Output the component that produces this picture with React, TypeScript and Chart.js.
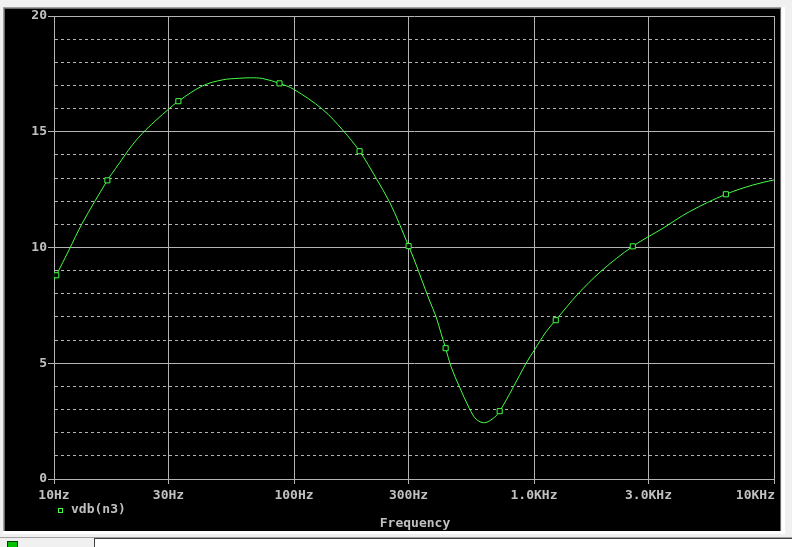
import React, { useEffect, useRef } from 'react';
import { Chart, registerables } from 'chart.js';

Chart.register(...registerables);

// ---- data ----
const freqHz = [
  10, 10.22, 11.55, 13.12, 16.69, 18.08, 21.21, 24.12, 29.97, 32.98, 41.54, 50.33, 59.09, 66, 74, 87.0, 99.9,
  131.5, 159.3, 187.6, 219.6, 249.5, 274.7, 300.3, 317.2, 366.3, 390.7, 410.0, 428.4, 451.2, 488.6, 537.8,
  573.5, 621.2, 683.8, 719.5, 815.1, 927.0, 1004, 1123, 1232, 1521, 1905, 2580, 3442, 4446, 6302, 8166, 10000,
];
const vdbN3 = [
  8.6, 8.8, 9.89, 11.05, 12.9, 13.42, 14.43, 15.08, 15.97, 16.32, 16.98, 17.24, 17.31, 17.33, 17.3, 17.09, 16.83,
  15.97, 15.08, 14.16, 13.0, 11.98, 11.03, 10.06, 9.46, 7.73, 7.01, 6.29, 5.65, 4.85, 3.99, 3.05,
  2.59, 2.43, 2.66, 2.93, 3.92, 5.0, 5.57, 6.36, 6.86, 7.98, 8.98, 10.05, 10.83, 11.55, 12.3, 12.7, 12.92,
];
const markerFreqHz = [10.22, 16.69, 32.98, 87.0, 187.6, 300.3, 428.4, 719.5, 1232, 2580, 6302];
const markerVdb = [8.8, 12.9, 16.32, 17.09, 14.16, 10.06, 5.65, 2.93, 6.86, 10.05, 12.3];

const xTickValues = [10, 30, 100, 300, 1000, 3000, 10000];
const xTickLabels = ['10Hz', '30Hz', '100Hz', '300Hz', '1.0KHz', '3.0KHz', '10KHz'];
const yMin = 0;
const yMax = 20;
const yMajorStep = 5;
const seriesName = 'vdb(n3)';
const xAxisTitle = 'Frequency';

// ---- style ----
const GREEN = '#44ff44';
const GRID = '#b4b4b4';
const TEXT = '#c0c0c0';
const FONT_FAMILY = '"DejaVu Sans Mono", "Liberation Mono", monospace';

const isMajor = (v: number) => Math.abs(v % yMajorStep) < 1e-9;

const overlayPlugin = {
  id: 'pspiceOverlay',
  afterDraw(chart: any) {
    const { ctx, chartArea, scales } = chart;
    const xs = scales.x;
    ctx.save();
    ctx.font = `bold 13px ${FONT_FAMILY}`;
    ctx.fillStyle = TEXT;
    ctx.textBaseline = 'alphabetic';
    ctx.textAlign = 'left';
    xTickValues.forEach((v, i) => {
      const label = xTickLabels[i];
      const w = ctx.measureText(label).width;
      let x = xs.getPixelForValue(v) - w / 2;
      x = Math.min(x, chartArea.right + 1 - w);
      ctx.fillText(label, x, chartArea.bottom + 20);
    });
    // legend
    ctx.strokeStyle = GREEN;
    ctx.lineWidth = 1;
    ctx.strokeRect(chartArea.left + 4.5, chartArea.bottom + 29.5, 4, 4);
    ctx.fillText(seriesName, chartArea.left + 17, chartArea.bottom + 34);
    // axis title
    const tw = ctx.measureText(xAxisTitle).width;
    ctx.fillText(xAxisTitle, (chartArea.left + chartArea.right) / 2 - tw / 2 + 1, chartArea.bottom + 48);
    ctx.restore();
  },
};

export default function App() {
  const canvasRef = useRef<HTMLCanvasElement | null>(null);

  useEffect(() => {
    const canvas = canvasRef.current;
    if (!canvas) return;
    const chart = new Chart(canvas, {
      type: 'line',
      data: {
        datasets: [
          {
            label: seriesName + ' markers',
            data: markerFreqHz.map((f, i) => ({ x: f, y: markerVdb[i] })),
            showLine: false,
            pointStyle: 'rect',
            pointRadius: 3.6,
            pointBorderWidth: 1,
            pointBorderColor: GREEN,
            pointBackgroundColor: '#000000',
            order: 0,
          },
          {
            label: seriesName,
            data: freqHz.map((f, i) => ({ x: f, y: vdbN3[i] })),
            borderColor: GREEN,
            borderWidth: 1,
            pointRadius: 0,
            tension: 0.35,
            fill: false,
            order: 1,
          },
        ],
      },
      options: {
        animation: false,
        responsive: false,
        devicePixelRatio: 1,
        events: [],
        layout: { padding: { top: 7, right: 6, left: 0, bottom: 0 } },
        plugins: {
          legend: { display: false },
          tooltip: { enabled: false },
          title: { display: false },
        },
        scales: {
          x: {
            type: 'logarithmic',
            min: xTickValues[0],
            max: xTickValues[xTickValues.length - 1],
            afterBuildTicks: (scale: any) => {
              scale.ticks = xTickValues.map((v) => ({ value: v }));
            },
            afterFit: (scale: any) => {
              scale.height = 52;
              scale.paddingLeft = 0;
              scale.paddingRight = 0;
            },
            ticks: { display: false },
            grid: {
              color: GRID,
              lineWidth: 1,
              drawTicks: true,
              tickLength: 5,
              tickColor: GRID,
            },
            border: { display: true, color: GRID, width: 1 },
          },
          y: {
            type: 'linear',
            min: yMin,
            max: yMax,
            afterFit: (scale: any) => {
              scale.width = 49;
              scale.paddingTop = 0;
              scale.paddingBottom = 0;
            },
            ticks: {
              stepSize: 1,
              autoSkip: false,
              color: TEXT,
              padding: 1,
              font: { family: FONT_FAMILY, size: 13, weight: 'bold' },
              callback: (v: any) => (isMajor(Number(v)) ? String(v) : ''),
            },
            grid: {
              color: GRID,
              lineWidth: 1,
              drawTicks: true,
              tickLength: 6,
              tickColor: (ctx: any) => (ctx.tick && isMajor(ctx.tick.value) ? GRID : 'rgba(0,0,0,0)'),
            },
            border: {
              display: true,
              color: GRID,
              width: 1,
              dash: (ctx: any) => (ctx.tick && !isMajor(ctx.tick.value) ? [3, 3] : []),
            },
          },
        },
      },
      plugins: [overlayPlugin],
    } as any);
    return () => chart.destroy();
  }, []);

  return (
    <div style={{ position: 'fixed', left: 0, top: 0, width: 792, height: 547, background: '#f0f0f0', overflow: 'hidden' }}>
      <div style={{ position: 'absolute', left: 3, top: 7, width: 778, height: 525, background: '#a0a0a0' }} />
      <div style={{ position: 'absolute', left: 4, top: 8, width: 777, height: 523, background: '#696969' }} />
      <div style={{ position: 'absolute', left: 782, top: 7, width: 3, height: 527, background: '#ffffff' }} />
      <div style={{ position: 'absolute', left: 3, top: 531, width: 782, height: 3, background: '#ffffff' }} />
      <div style={{ position: 'absolute', left: 5, top: 9, width: 775, height: 522, background: '#000000' }}>
        <canvas ref={canvasRef} width={775} height={522} style={{ display: 'block', width: 775, height: 522 }} />
      </div>
      <div style={{ position: 'absolute', left: 0, top: 537, width: 792, height: 1, background: '#a0a0a0' }} />
      <div style={{ position: 'absolute', left: 94, top: 538, width: 698, height: 9, background: '#ffffff', borderTop: '1px solid #404040', borderLeft: '1px solid #404040' }} />
      <div style={{ position: 'absolute', left: 7, top: 541, width: 9, height: 6, background: '#00c000', border: '1px solid #004000' }} />
    </div>
  );
}
